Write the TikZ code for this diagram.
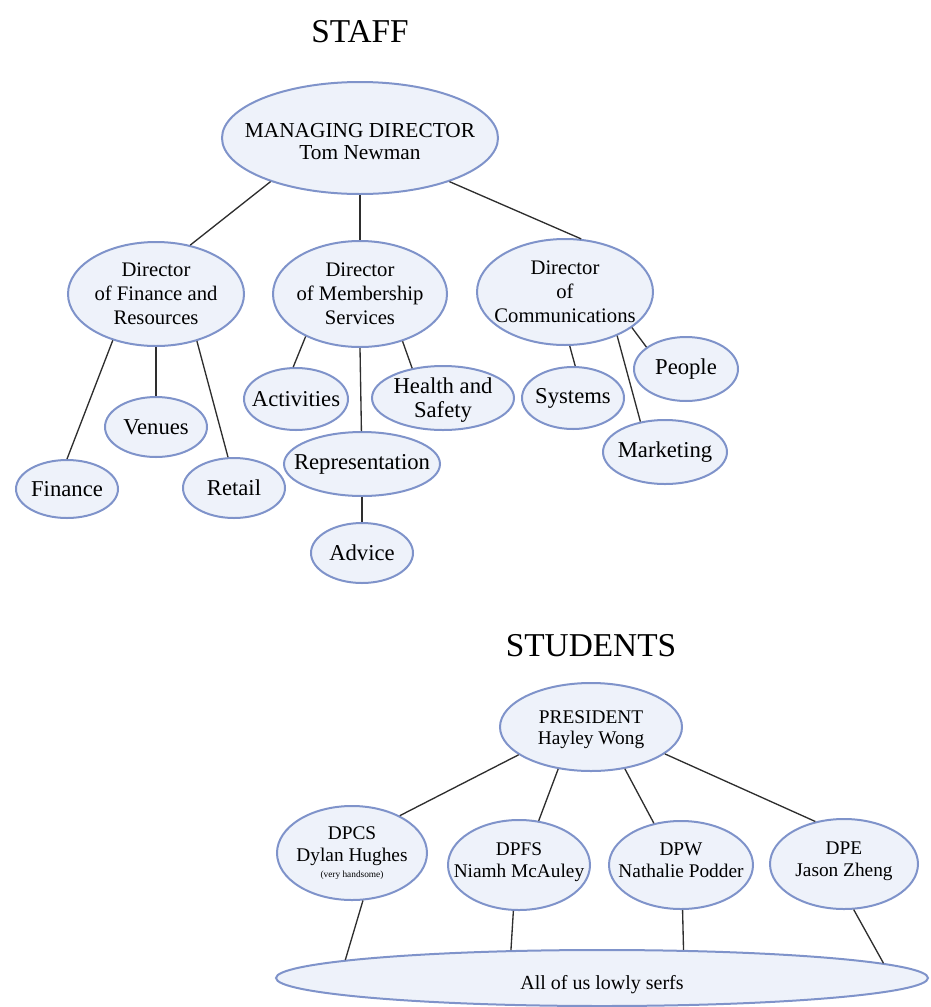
\documentclass[tikz,border=0pt]{standalone}
\usepackage{fontspec}
\setmainfont{Liberation Serif}
\usetikzlibrary{shapes.geometric}
\definecolor{ellfill}{HTML}{EEF2FA}
\definecolor{ellborder}{HTML}{7F93CA}
\definecolor{linec}{HTML}{2E2E2E}
\newcommand\lowered[2]{\raisebox{-#1}[\height][\depth]{#2}}
\tikzset{
  ell/.style={ellipse, draw=ellborder, fill=ellfill, line width=1.5pt, inner sep=-80pt, align=center, text=black},
  sz/.style 2 args={minimum width=#1*1.5pt, minimum height=#2*1.5pt},
  dirfont/.style={font=\fontsize{15.5}{18}\selectfont},
  mdfont/.style={font=\fontsize{16}{16.5}\selectfont},
  leaffont/.style={font=\fontsize{17}{18.5}\selectfont},
  stfont/.style={font=\fontsize{14.5}{16}\selectfont},
  title/.style={font=\fontsize{25}{28}\selectfont},
  conn/.style={draw=linec, line width=1pt}
}
\begin{document}
\begin{tikzpicture}[x=0.75pt, y=-0.75pt]
\path[use as bounding box] (0,0) rectangle (931,1007);

% ---------------- STAFF ----------------
\node[title] (stafft) at (360,32) {STAFF};
\node[ell, mdfont, sz={138}{56}] (md) at (360,138) {\lowered{4.5pt}{\begin{tabular}{@{}c@{}}MANAGING DIRECTOR\\Tom Newman\end{tabular}}};

\node[ell, dirfont, sz={88}{52}] (fdir) at (156,294) {Director\\of Finance and\\Resources};
\node[ell, dirfont, sz={87}{53}] (mdir) at (360,294) {Director\\of Membership\\Services};
\node[ell, dirfont, sz={88}{53}] (cdir) at (565,292) {Director\\of\\Communications};

\node[ell, leaffont, sz={51}{30}] (venues) at (156,427) {Venues};
\node[ell, leaffont, sz={51}{29}] (finance) at (67,489) {Finance};
\node[ell, leaffont, sz={51}{30}] (retail) at (234,488) {Retail};
\node[ell, leaffont, sz={52}{31}] (activ) at (296,399) {Activities};
\node[ell, leaffont, sz={71}{32}] (health) at (443,398) {\lowered{2pt}{\begin{tabular}{@{}c@{}}Health and\\Safety\end{tabular}}};
\node[ell, leaffont, sz={78}{32}] (repr) at (362,464) {Representation};
\node[ell, leaffont, sz={51}{30}] (advice) at (362,553) {Advice};
\node[ell, leaffont, sz={51}{31}] (systems) at (573,398) {Systems};
\node[ell, leaffont, sz={52}{32}] (people) at (686,369) {People};
\node[ell, leaffont, sz={62}{32}] (market) at (665,452) {Marketing};

\draw[conn] (md.206.6) -- (fdir.55.8);
\draw[conn] (md.270) -- (mdir.90);
\draw[conn] (md.334.7) -- (cdir.73.9);

\draw[conn] (fdir.227.5) -- (finance.90);
\draw[conn] (fdir.270) -- (venues.90);
\draw[conn] (fdir.311.3) -- (retail.101.3);

\draw[conn] (mdir.218.7) -- (activ.95.5);
\draw[conn] (mdir.270) -- (repr.91);
\draw[conn] (mdir.312.6) -- (health.136.8);
\draw[conn] (repr.270) -- (advice.90);

\draw[conn] (cdir.275.3) -- (systems.86.3);
\draw[conn] (cdir.320.3) -- (market.129.8);
\draw[conn] (cdir.332.8) -- (people.151);

% ---------------- STUDENTS ----------------
\node[title] (studt) at (591,646) {STUDENTS};
\node[ell, stfont, sz={91}{44}] (pres) at (591,727) {\lowered{2pt}{\begin{tabular}{@{}c@{}}PRESIDENT\\Hayley Wong\end{tabular}}};

\node[ell, stfont, sz={75}{47}] (dpcs) at (352,853) {DPCS\\Dylan Hughes\\[-4pt]{\fontsize{7}{8}\selectfont (very handsome)}};
\node[ell, stfont, sz={71}{45}] (dpfs) at (519,865) {\lowered{-2pt}{\begin{tabular}{@{}c@{}}DPFS\\Niamh McAuley\end{tabular}}};
\node[ell, stfont, sz={72}{44}] (dpw) at (681,865) {\lowered{-2pt}{\begin{tabular}{@{}c@{}}DPW\\Nathalie Podder\end{tabular}}};
\node[ell, stfont, sz={74}{45}] (dpe) at (844,864) {\lowered{-2pt}{\begin{tabular}{@{}c@{}}DPE\\Jason Zheng\end{tabular}}};

\node[ell, font=\fontsize{15}{17}\selectfont, sz={326}{28}] (serfs) at (602,978) {\lowered{5pt}{All of us lowly serfs}};

\draw[conn] (pres.201.5) -- (dpcs.38.7);
\draw[conn] (pres.232.2) -- (dpfs.66);
\draw[conn] (pres.309.5) -- (dpw.123.1);
\draw[conn] (pres.340.2) -- (dpe.124.9);

\draw[conn] (dpcs.283.7) -- (serfs.176.7);
\draw[conn] (dpfs.263.7) -- (serfs.163.7);
\draw[conn] (dpw.272.7) -- (serfs.19.7);
\draw[conn] (dpe.282.8) -- (serfs.3.2);
\end{tikzpicture}
\end{document}
